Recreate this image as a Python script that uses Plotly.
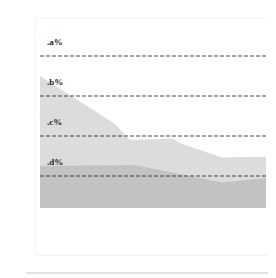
import plotly.graph_objects as go

# Upper (light) series
upper_x = [0, 33.2, 39.8, 58.8, 61.9, 80.5, 100]
upper_y = [35.0, 23.0, 19.0, 19.4, 18.25, 14.6, 14.8]

# Lower (dark) series
lower_x = [0, 42.0, 80.5, 100]
lower_y = [12.5, 12.75, 8.4, 9.5]

tick_vals = [40, 30, 20, 10]
tick_labels = [".a%", ".b%", ".c%", ".d%"]

fig = go.Figure()
fig.add_trace(go.Scatter(x=upper_x, y=upper_y, mode="lines", fill="tozeroy",
                         line=dict(width=0, color="#dcdcdc"), fillcolor="#dcdcdc",
                         hoverinfo="skip", showlegend=False))
fig.add_trace(go.Scatter(x=lower_x, y=lower_y, mode="lines", fill="tozeroy",
                         line=dict(width=0, color="#c2c2c2"), fillcolor="#c2c2c2",
                         hoverinfo="skip", showlegend=False))

for v, t in zip(tick_vals, tick_labels):
    fig.add_shape(type="line", xref="paper", x0=0, x1=1, yref="y", y0=v, y1=v,
                  line=dict(color="#444444", width=1, dash="4px,2px"), layer="above")
    fig.add_annotation(xref="paper", x=0.022, yref="y", y=v, text="<b>" + t + "</b>",
                       showarrow=False, xanchor="left", yanchor="middle", yshift=14,
                       font=dict(family="Liberation Serif", size=9, color="#222222"))

# faint card decorations
fig.add_shape(type="rect", xref="paper", yref="paper", x0=-0.02, x1=1.02, y0=-0.27, y1=1.08,
              line=dict(color="#f3f3f3", width=1), fillcolor="rgba(0,0,0,0)", layer="below")
fig.add_shape(type="line", xref="paper", yref="paper", x0=-0.06, x1=1.05, y0=-0.37, y1=-0.37,
              line=dict(color="#e2e2e2", width=2))

fig.update_layout(
    width=268, height=270,
    margin=dict(l=32, r=10, t=24, b=70),
    paper_bgcolor="#ffffff", plot_bgcolor="#ffffff",
    xaxis=dict(range=[0, 100], visible=False, showgrid=False, zeroline=False),
    yaxis=dict(range=[2, 46], visible=False, showgrid=False, zeroline=False),
)
fig.write_html("out.html")
